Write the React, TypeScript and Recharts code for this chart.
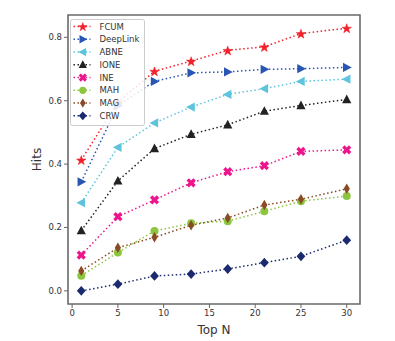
import React from 'react';
import { LineChart, Line, XAxis, YAxis, Legend, ReferenceArea } from 'recharts';

const topN = [1, 5, 9, 13, 17, 21, 25, 30];
const fcum = [0.413, 0.595, 0.693, 0.725, 0.759, 0.770, 0.812, 0.829];
const deepLink = [0.344, 0.585, 0.661, 0.688, 0.691, 0.699, 0.701, 0.705];
const abne = [0.278, 0.453, 0.530, 0.580, 0.620, 0.638, 0.661, 0.668];
const ione = [0.190, 0.347, 0.449, 0.494, 0.524, 0.567, 0.585, 0.604];
const ine = [0.113, 0.234, 0.287, 0.341, 0.376, 0.395, 0.440, 0.445];
const mah = [0.048, 0.121, 0.189, 0.213, 0.220, 0.251, 0.283, 0.299];
const mag = [0.063, 0.136, 0.169, 0.207, 0.230, 0.271, 0.289, 0.322];
const crw = [0.000, 0.021, 0.047, 0.053, 0.069, 0.089, 0.109, 0.160];

const xTicks = [0, 5, 10, 15, 20, 25, 30];
const yTicks = [0, 0.2, 0.4, 0.6, 0.8];

const series = [
  { key: 'FCUM', values: fcum, color: '#f0212b', shape: 'star' },
  { key: 'DeepLink', values: deepLink, color: '#2a56b3', shape: 'triRight' },
  { key: 'ABNE', values: abne, color: '#5ec4dc', shape: 'triLeft' },
  { key: 'IONE', values: ione, color: '#222222', shape: 'triUp' },
  { key: 'INE', values: ine, color: '#ec168c', shape: 'xfill' },
  { key: 'MAH', values: mah, color: '#8cc63f', shape: 'circle' },
  { key: 'MAG', values: mag, color: '#8b4a26', shape: 'thinDiamond' },
  { key: 'CRW', values: crw, color: '#1b2a6e', shape: 'diamond' },
];

const data = topN.map((n, i) => {
  const row: any = { n };
  series.forEach((s) => (row[s.key] = s.values[i]));
  return row;
});

const X_MIN = -0.45;
const X_MAX = 31.45;
const Y_MIN = -0.0415;
const Y_MAX = 0.8705;

function Marker({ shape, cx, cy, color, scale = 1 }: any) {
  if (cx == null || cy == null) return null;
  const pts = (arr: number[][]) => arr.map((p) => `${cx + p[0] * scale},${cy + p[1] * scale}`).join(' ');
  switch (shape) {
    case 'star': {
      const a: number[][] = [];
      const ro = 5.0, ri = 2.0;
      for (let i = 0; i < 10; i++) {
        const r = i % 2 === 0 ? ro : ri;
        const ang = -Math.PI / 2 + (i * Math.PI) / 5;
        a.push([r * Math.cos(ang), r * Math.sin(ang) + 0.6]);
      }
      return <polygon points={pts(a)} fill={color} stroke={color} strokeWidth={0.5} />;
    }
    case 'triRight':
      return <polygon points={pts([[5.0, 0], [-3.7, -4.6], [-3.7, 4.6]])} fill={color} />;
    case 'triLeft':
      return <polygon points={pts([[-5.0, 0], [3.7, -4.6], [3.7, 4.6]])} fill={color} />;
    case 'triUp':
      return <polygon points={pts([[0, -5.0], [-4.6, 3.7], [4.6, 3.7]])} fill={color} />;
    case 'xfill': {
      const w = 1.7, r = 4.8;
      const base = [[w, r], [w, w], [r, w], [r, -w], [w, -w], [w, -r], [-w, -r], [-w, -w], [-r, -w], [-r, w], [-w, w], [-w, r]];
      const c = Math.SQRT1_2;
      const rot = base.map(([x, y]) => [(x - y) * c, (x + y) * c]);
      return <polygon points={pts(rot)} fill={color} />;
    }
    case 'circle':
      return <circle cx={cx} cy={cy} r={4.0 * scale} fill={color} />;
    case 'thinDiamond':
      return <polygon points={pts([[0, -5.2], [3.1, 0], [0, 5.2], [-3.1, 0]])} fill={color} />;
    case 'diamond':
      return <polygon points={pts([[0, -4.9], [4.4, 0], [0, 4.9], [-4.4, 0]])} fill={color} />;
    default:
      return null;
  }
}

function LegendBox() {
  const rowH = 12.76;
  return (
    <svg width={75} height={107} style={{ display: 'block' }}>
      <rect x={0.5} y={0.5} width={74} height={106} rx={2} fill="#ffffff" fillOpacity={0.85} stroke="#cccccc" strokeWidth={1} />
      {series.map((s, i) => {
        const cy = 7.5 + rowH * i;
        return (
          <g key={s.key}>
            <line x1={3.5} x2={20.5} y1={cy} y2={cy} stroke={s.color} strokeWidth={1.5} strokeDasharray="1.5 2.5" />
            <Marker shape={s.shape} cx={12.8} cy={cy} color={s.color} scale={0.9} />
            <text x={29.5} y={cy} dominantBaseline="central" fontSize={8.5} fontFamily="DejaVu Sans" fill="#333">
              {s.key}
            </text>
          </g>
        );
      })}
    </svg>
  );
}

export default function App() {
  const tickStyle = { fontSize: 8.5, fontFamily: 'DejaVu Sans', fill: '#333' };
  return (
    <div style={{ position: 'absolute', left: 0, top: 0, background: '#fff' }}>
      <LineChart width={395} height={341} data={data} margin={{ top: 15, right: 35, left: 0, bottom: 0 }}>
        <XAxis
          dataKey="n"
          type="number"
          domain={[X_MIN, X_MAX]}
          ticks={xTicks}
          allowDataOverflow
          height={37}
          tickSize={4}
          tickMargin={2}
          stroke="#666"
          tick={tickStyle}
          axisLine={false}
          tickLine={{ stroke: '#666', strokeWidth: 1 }}
          label={{ value: 'Top N', position: 'insideBottom', offset: 7, style: { fontSize: 12, fontFamily: 'DejaVu Sans', fill: '#333' } }}
        />
        <YAxis
          type="number"
          domain={[Y_MIN, Y_MAX]}
          ticks={yTicks}
          allowDataOverflow
          width={68}
          tickSize={4}
          tickMargin={2}
          stroke="#666"
          tick={tickStyle}
          axisLine={false}
          tickLine={{ stroke: '#666', strokeWidth: 1 }}
          tickFormatter={(v: number) => v.toFixed(1)}
          label={{
            content: (p: any) => {
              const vb = p.viewBox || { x: 0, y: 15, width: 68, height: 289 };
              const x = vb.x + 37;
              const y = vb.y + vb.height / 2;
              return (
                <text x={x} y={y} transform={`rotate(-90 ${x} ${y})`} textAnchor="middle" dominantBaseline="central" fontSize={12} fontFamily="DejaVu Sans" fill="#333">
                  Hits
                </text>
              );
            },
          }}
        />
        <ReferenceArea x1={X_MIN} x2={X_MAX} y1={Y_MIN} y2={Y_MAX} fill="none" fillOpacity={0} stroke="#6a6a6a" strokeWidth={1.6} ifOverflow="visible" />
        {series.map((s) => (
          <Line
            key={s.key}
            dataKey={s.key}
            name={s.key}
            stroke={s.color}
            strokeWidth={1.5}
            strokeDasharray="1.5 2.5"
            isAnimationActive={false}
            dot={(p: any) => <Marker key={`${s.key}-${p.index}`} shape={s.shape} cx={p.cx} cy={p.cy} color={s.color} />}
            activeDot={false}
          />
        ))}
        <Legend
          layout="vertical"
          align="center"
          verticalAlign="middle"
          content={() => <LegendBox />}
          wrapperStyle={{ left: 70, top: 19, width: 75, height: 107, right: 'auto', bottom: 'auto' }}
        />
      </LineChart>
    </div>
  );
}
